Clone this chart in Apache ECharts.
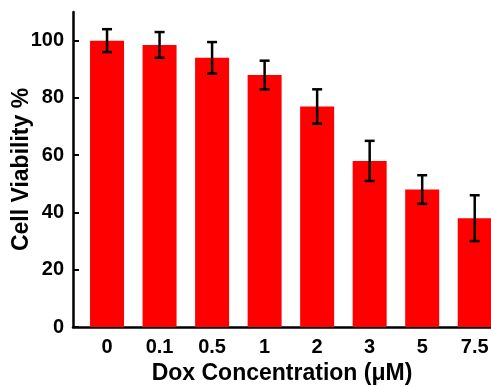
<!DOCTYPE html>
<html>
<head>
<meta charset="utf-8">
<script src="https://cdn.jsdelivr.net/npm/echarts@6/dist/echarts.min.js"></script>
<style>
  html, body { margin: 0; padding: 0; background: #fff; }
  #main { width: 491px; height: 387px; }
</style>
</head>
<body>
<div id="main"></div>
<script>
// data
var categories = ['0', '0.1', '0.5', '1', '2', '3', '5', '7.5'];
var viability = [100, 98.5, 94, 88, 77, 58, 48, 38];
var errors = [4, 4.5, 5.5, 5, 6, 7, 5, 8];
var yTicks = [0, 20, 40, 60, 80, 100];

var font = 'Liberation Sans, Arial, sans-serif';
var chart = echarts.init(document.getElementById('main'));

var barData = viability.map(function (v, i) { return [i, v]; });
var errData = viability.map(function (v, i) { return [i, v - errors[i], v + errors[i]]; });

var option = {
  animation: false,
  grid: { left: 73, right: 0, top: 12, bottom: 60, outerBoundsMode: 'none', containLabel: false },
  xAxis: {
    type: 'value',
    min: -0.648,
    max: 7.31,
    splitLine: { show: false },
    axisLine: { onZero: false, lineStyle: { color: '#000', width: 2.5 } },
    axisTick: { show: false },
    axisLabel: {
      customValues: [0, 1, 2, 3, 4, 5, 6, 7],
      formatter: function (v) { return categories[Math.round(v)]; },
      color: '#000', fontWeight: 'bold', fontSize: 20, fontFamily: font, margin: 10
    },
    name: 'Dox Concentration (\u03bcM)',
    nameLocation: 'middle',
    nameGap: 35,
    nameMoveOverlap: false,
    nameTextStyle: { color: '#000', fontWeight: 'bold', fontSize: 23, fontFamily: font }
  },
  yAxis: {
    type: 'value',
    min: 0,
    max: 110,
    splitLine: { show: false },
    axisLine: { show: true, onZero: false, lineStyle: { color: '#000', width: 2.5 } },
    axisTick: { show: true, inside: true, length: 6, customValues: yTicks, lineStyle: { color: '#000', width: 2 } },
    axisLabel: {
      customValues: yTicks,
      color: '#000', fontWeight: 'bold', fontSize: 20, fontFamily: font, margin: 9
    },
    name: 'Cell Viability %',
    nameLocation: 'middle',
    nameGap: 40,
    nameMoveOverlap: false,
    nameTextStyle: { color: '#000', fontWeight: 'bold', fontSize: 23, fontFamily: font }
  },
  series: [
    {
      type: 'bar',
      data: barData,
      barWidth: 34,
      itemStyle: { color: '#ff0000' }
    },
    {
      type: 'custom',
      data: errData,
      z: 5,
      renderItem: function (params, api) {
        var x = api.value(0);
        var lo = api.coord([x, api.value(1)]);
        var hi = api.coord([x, api.value(2)]);
        var w = 5;
        var st = { stroke: '#000', lineWidth: 2.5 };
        return {
          type: 'group',
          children: [
            { type: 'line', shape: { x1: lo[0], y1: lo[1], x2: hi[0], y2: hi[1] }, style: st },
            { type: 'line', shape: { x1: hi[0] - w, y1: hi[1], x2: hi[0] + w, y2: hi[1] }, style: st },
            { type: 'line', shape: { x1: lo[0] - w, y1: lo[1], x2: lo[0] + w, y2: lo[1] }, style: st }
          ]
        };
      }
    }
  ]
};
chart.setOption(option);
</script>
</body>
</html>
